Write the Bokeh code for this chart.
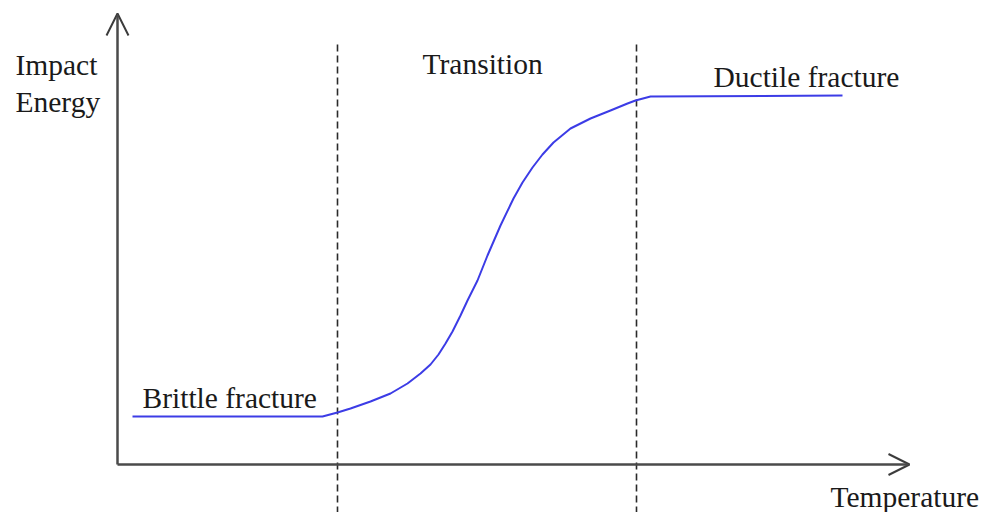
from bokeh.plotting import figure
from bokeh.models import Range1d, Arrow, OpenHead, ColumnDataSource
from bokeh.core.properties import value
from bokeh.embed import file_html
from bokeh.resources import INLINE

# --- data (temperature vs impact energy, arbitrary units) ---
temperature = [15, 205, 220, 233, 253, 273, 290, 303, 313, 321, 328, 335, 343, 350, 360,
               370, 383, 396, 405, 415, 425, 436, 453, 473, 493, 510, 518, 533, 725]
impact_energy = [48, 48, 52, 56, 63, 71, 81, 91, 100, 110, 121, 133, 149, 164, 184,
                 209, 239, 266, 282, 297, 310, 322, 336, 346, 354, 361, 364, 368, 369]

# region boundaries (transition zone)
boundaries = [220, 519]
boundary_top = 424
boundary_bottom = -60

# axis extents
x_axis_end = 792
y_axis_end = 451

# labels
label_text = ["Impact", "Energy", "Transition", "Ductile fracture", "Brittle fracture", "Temperature"]
label_x = [-102, -102, 305, 596, 25, 713]
label_y = [400, 363, 401, 388, 67, -32]

FONT = value("Liberation Serif")

p = figure(width=983, height=512, output_backend="svg", toolbar_location=None,
           x_range=Range1d(-117, 866), y_range=Range1d(-48, 464),
           x_axis_location=None, y_axis_location=None, min_border=0)
p.grid.visible = False
p.outline_line_color = None
p.background_fill_color = "white"
p.border_fill_color = "white"

# dashed region boundaries
p.segment(x0=boundaries, y0=[boundary_bottom] * 2, x1=boundaries, y1=[boundary_top] * 2,
          line_color="#2a2a2a", line_width=1.6, line_dash="7 4")

# axes with open arrow heads
p.add_layout(Arrow(end=OpenHead(size=22, line_width=2, line_color="#3c3c3c"),
                   x_start=0, y_start=0, x_end=0, y_end=y_axis_end,
                   line_color="#4a4a4a", line_width=2.5))
p.add_layout(Arrow(end=OpenHead(size=21, line_width=2, line_color="#3c3c3c"),
                   x_start=0, y_start=0, x_end=x_axis_end, y_end=0,
                   line_color="#4a4a4a", line_width=2.5))

# curve
p.line(temperature, impact_energy, line_color="#3c3ce6", line_width=2, line_join="round")

# labels
src = ColumnDataSource(dict(x=label_x, y=label_y, t=label_text))
p.text(x="x", y="y", text="t", source=src, text_font=FONT, text_font_size="29.5px",
       text_color="#1a1a1a", text_align="left", text_baseline="alphabetic")

open("out.html", "w").write(file_html(p, INLINE))
